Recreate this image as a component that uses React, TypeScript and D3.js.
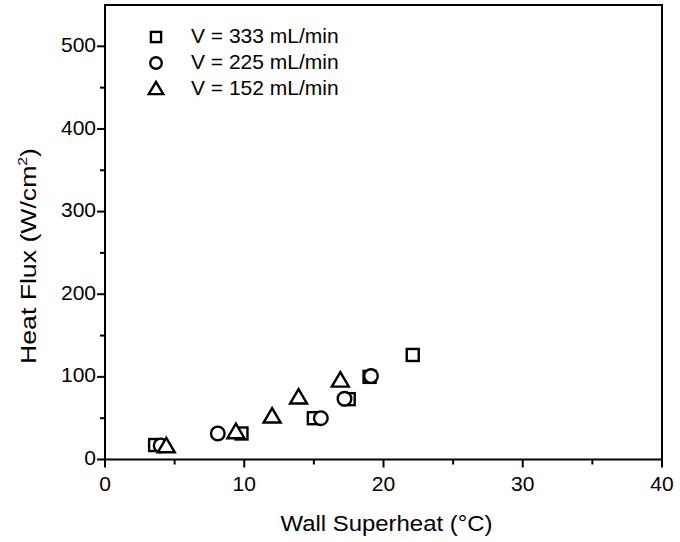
import React from "react";
import * as d3 from "d3";

const sq333X = [3.6, 9.8, 15.0, 17.5, 19.0, 22.1];
const sq333Y = [17.5, 31.5, 50, 73, 100, 126.5];
const ci225X = [4.0, 8.1, 15.5, 17.2, 19.1];
const ci225Y = [17, 31.5, 50, 73.5, 101];
const tr152X = [4.4, 9.4, 12.0, 13.9, 16.9];
const tr152Y = [16, 33, 52, 75, 95.5];
const xTicks = [0, 10, 20, 30, 40];
const yTicks = [0, 100, 200, 300, 400, 500];
const legendLabels = ["V = 333 mL/min", "V = 225 mL/min", "V = 152 mL/min"];

const W = 680, H = 542;
const L = 105, R = 662, T = 5, B = 459.5;
const FONT = "'Liberation Sans', Arial, sans-serif";

function Marker({ kind, x, y, s = 1 }: { kind: string; x: number; y: number; s?: number }) {
  if (kind === "square") {
    const h = 6 * s;
    return <rect x={x - h} y={y - h} width={2 * h} height={2 * h} fill="white" stroke="#000" strokeWidth={2.4} />;
  }
  if (kind === "circle")
    return <circle cx={x} cy={y} r={6.8 * s} fill="white" stroke="#000" strokeWidth={2.4} />;
  const hw = 8.5 * s;
  const p = `M${x},${y - 8.5 * s}L${x + hw},${y + 6 * s}L${x - hw},${y + 6 * s}Z`;
  return <path d={p} fill="white" stroke="#000" strokeWidth={2.4} strokeLinejoin="miter" />;
}

export default function App() {
  const x = d3.scaleLinear().domain([0, 40]).range([L, R]);
  const y = d3.scaleLinear().domain([0, 550]).range([B, T]);
  const xMinor = d3.range(5, 40, 10);
  const yMinor = d3.range(50, 550, 100);
  const series = [
    { kind: "square", xs: sq333X, ys: sq333Y },
    { kind: "circle", xs: ci225X, ys: ci225Y },
    { kind: "triangle", xs: tr152X, ys: tr152Y },
  ];
  return (
    <svg width={W} height={H} style={{ display: "block", position: "absolute", left: 0, top: 0 }} fontFamily={FONT}>
      <rect x={0} y={0} width={W} height={H} fill="white" />
      <rect x={L} y={T} width={R - L} height={B - T} fill="none" stroke="#000" strokeWidth={2} />
      {xTicks.map((t) => (
        <g key={"xt" + t}>
          <line x1={x(t)} x2={x(t)} y1={B} y2={B + 8} stroke="#000" strokeWidth={2} />
          <text x={x(t)} y={B + 26} fontSize={21} textAnchor="middle" dominantBaseline="middle" fill="#000">{t}</text>
        </g>
      ))}
      {xMinor.map((t) => (
        <line key={"xm" + t} x1={x(t)} x2={x(t)} y1={B} y2={B + 5} stroke="#000" strokeWidth={2} />
      ))}
      {yTicks.map((t) => (
        <g key={"yt" + t}>
          <line x1={L - 8} x2={L} y1={y(t)} y2={y(t)} stroke="#000" strokeWidth={2} />
          <text x={L - 9} y={y(t)} fontSize={21} textAnchor="end" dominantBaseline="middle" fill="#000">{t}</text>
        </g>
      ))}
      {yMinor.map((t) => (
        <line key={"ym" + t} x1={L - 5} x2={L} y1={y(t)} y2={y(t)} stroke="#000" strokeWidth={2} />
      ))}
      <text x={(278 + 495) / 2} y={531} fontSize={22} textAnchor="middle" textLength={212} lengthAdjust="spacingAndGlyphs" fill="#000">Wall Superheat (°C)</text>
      <text transform={`translate(36,256) rotate(-90)`} fontSize={22} textAnchor="middle" fill="#000" textLength={216} lengthAdjust="spacingAndGlyphs">
        Heat Flux (W/cm<tspan dy={-9} fontSize={13}>2</tspan><tspan dy={9}>)</tspan>
      </text>
      {series.map((s) =>
        s.xs.map((v, i) => <Marker key={s.kind + i} kind={s.kind} x={x(v)} y={y(s.ys[i])} />)
      )}
      {series.map((s, i) => (
        <g key={"lg" + i}>
          <Marker kind={s.kind} x={156} y={37 + i * 26} s={0.85} />
          <text x={191} y={37 + i * 26} fontSize={21} dominantBaseline="middle" fill="#000">{legendLabels[i]}</text>
        </g>
      ))}
    </svg>
  );
}
